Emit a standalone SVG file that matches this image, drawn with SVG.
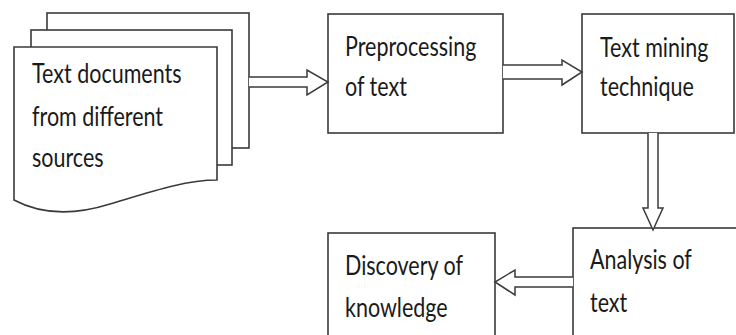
<svg xmlns="http://www.w3.org/2000/svg" width="736" height="335" viewBox="0 0 736 335">
<style>
.box{fill:#fff;stroke:#3a3a3a;stroke-width:1.6}
.arr{fill:#fff;stroke:#3a3a3a;stroke-width:1.5;stroke-linejoin:miter}
text{font-family:Lato,"Liberation Sans",sans-serif;font-size:21.5px;fill:#1a1a1a}
</style>
<rect width="736" height="335" fill="#fff"/>
<g id="documents">
<rect class="box" x="47" y="13" width="202" height="135"/>
<rect class="box" x="31" y="30" width="201" height="135"/>
<path class="box" d="M14,47 H217 V180 C185,180 150,192 110,204 C75,215 42,215 14,200 Z"/>
<text transform="translate(32,83) scale(1,1.22)">Text documents</text>
<text transform="translate(32,126) scale(1,1.22)">from different</text>
<text transform="translate(32,167) scale(1,1.22)">sources</text>
</g>
<g id="preprocessing">
<rect class="box" x="328" y="14" width="175" height="119"/>
<text transform="translate(345,56) scale(1,1.22)">Preprocessing</text>
<text transform="translate(345,96) scale(1,1.22)">of text</text>
</g>
<g id="textmining">
<rect class="box" x="582" y="14" width="152" height="119"/>
<text transform="translate(600,57) scale(1,1.22)">Text mining</text>
<text transform="translate(600,96) scale(1,1.22)">technique</text>
</g>
<g id="analysis">
<rect class="box" x="573" y="228" width="170" height="120"/>
<text transform="translate(590,269) scale(1,1.22)">Analysis of</text>
<text transform="translate(590,312) scale(1,1.22)">text</text>
</g>
<g id="discovery">
<rect class="box" x="328" y="233" width="167" height="115"/>
<text transform="translate(345,275) scale(1,1.22)">Discovery of</text>
<text transform="translate(345,317) scale(1,1.22)">knowledge</text>
</g>
<g id="connectors">
<path class="arr" d="M249,77 H307 V70 L328,82 L307,95 V87 H249"/>
<path class="arr" d="M503,65 H562 V60 L582,72 L562,85 V79 H503"/>
<path class="arr" d="M648,133 V208 H643 L653,230 L663,208 H658 V133"/>
<path class="arr" d="M573,277 H515 V270 L495,282 L515,295 V287 H573"/>
</g>
</svg>
